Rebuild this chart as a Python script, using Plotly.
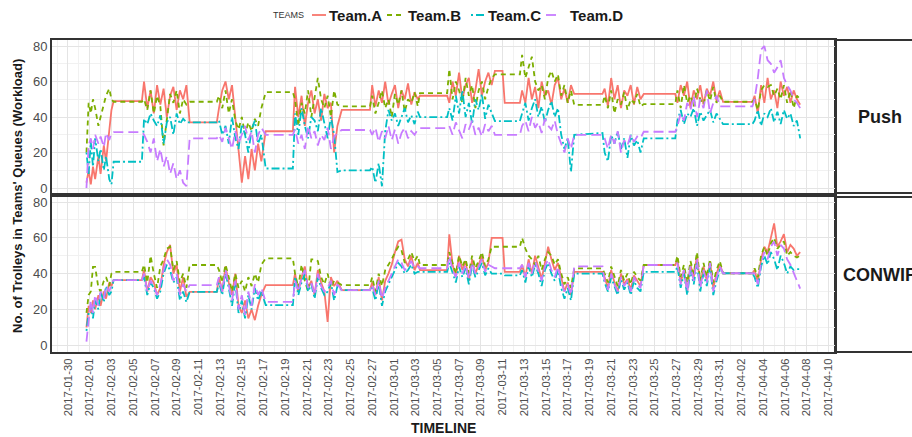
import pandas as pd
import plotly.graph_objects as go

BASE = pd.Timestamp("2017-02-01")

# day offsets from 2017-02-01, one sub-list per busy / idle stretch
t_segments = [
    [-0.3, -0.1, 0.1, 0.3, 0.5, 0.8, 1.0, 1.3, 1.5, 1.8, 2.0],
    [2.2, 4.8],
    [5.0, 5.3, 5.6, 5.9, 6.2, 6.5, 6.8, 7.1, 7.4, 7.7, 8.0, 8.3, 8.6, 8.9],
    [9.2, 11.7],
    [11.9, 12.2, 12.5, 12.8, 13.1, 13.4, 13.7, 14.0, 14.3, 14.6, 14.9, 15.2, 15.5, 15.8],
    [16.2, 18.7],
    [18.9, 19.2, 19.5, 19.8, 20.1, 20.4, 20.7, 21.0, 21.3, 21.6, 21.9, 22.2, 22.5, 22.8],
    [23.2, 25.8],
    [26.0, 26.3, 26.6, 26.9, 27.2, 27.5, 27.8, 28.1, 28.4, 28.7, 29.0, 29.3, 29.6, 29.9, 30.2],
    [30.4, 32.9],
    [33.1, 33.4, 33.7, 34.0, 34.3, 34.6, 34.9, 35.2, 35.5, 35.8, 36.1, 36.4, 36.7, 37.0],
    [37.3, 38.0, 38.2, 39.6],
    [39.8, 40.1, 40.4, 40.7, 41.0, 41.3, 41.6, 41.9, 42.2, 42.5, 42.8, 43.1, 43.4, 43.7, 44.0, 44.3],
    [44.6, 47.2],
    [47.4, 47.7, 48.0, 48.3, 48.6, 48.9, 49.2, 49.5, 49.8, 50.1, 50.4, 50.7],
    [51.0, 53.9],
    [54.1, 54.4, 54.7, 55.0, 55.3, 55.6, 55.9, 56.2, 56.5, 56.8, 57.1, 57.4, 57.7, 58.0],
    [58.3, 61.0],
    [61.2, 61.5, 61.8, 62.1, 62.4, 62.7, 63.0, 63.3, 63.6, 63.9, 64.2, 64.5, 64.8, 65.1, 65.4],
]

# ---------------- Push ----------------
push_A = [
    [3, 10, 2, 12, 5, 18, 8, 24, 15, 35, 44],
    [49, 49],
    [60, 45, 55, 42, 58, 47, 56, 40, 52, 57, 44, 55, 50, 58],
    [37, 37],
    [45, 55, 60, 50, 58, 40, 20, 3, 18, 5, 22, 10, 25, 15],
    [32, 32],
    [57, 40, 52, 35, 48, 55, 42, 50, 38, 53, 45, 48, 20, 35],
    [44, 44],
    [58, 46, 55, 48, 60, 47, 53, 58, 45, 55, 50, 59, 47, 54, 50],
    [52, 52],
    [48, 60, 52, 65, 50, 58, 62, 48, 55, 67, 52, 60, 65, 58],
    [66, 66, 48, 48],
    [55, 48, 62, 50, 57, 45, 60, 52, 55, 47, 58, 62, 50, 56, 48, 58],
    [53, 53],
    [56, 46, 62, 50, 58, 45, 55, 52, 58, 47, 57, 50],
    [53, 53],
    [48, 58, 52, 60, 45, 55, 50, 58, 47, 56, 52, 60, 49, 55],
    [48.5, 48.5],
    [52, 42, 58, 48, 62, 50, 55, 45, 60, 52, 57, 48, 55, 50, 47],
]
push_B = [
    [20, 48, 42, 50, 45, 35, 40, 47, 52, 56, 50],
    [48.6, 48.6],
    [50, 44, 55, 42, 52, 46, 24, 40, 53, 48, 55, 42, 50, 47],
    [48.6, 48.6],
    [52, 45, 55, 42, 50, 38, 33, 40, 30, 37, 32, 39, 35, 45],
    [54, 54],
    [50, 35, 48, 42, 55, 40, 52, 62, 50, 45, 52, 40, 55, 47],
    [46, 46],
    [52, 42, 48, 55, 45, 50, 40, 53, 47, 55, 43, 50, 48, 54, 46],
    [53.5, 53.5],
    [67, 50, 60, 55, 48, 62, 52, 58, 45, 55, 60, 50, 57, 62],
    [64, 64, 64, 64],
    [75, 62, 68, 74, 60, 55, 58, 50, 62, 66, 60, 64, 52, 58, 48, 55],
    [46.8, 46.8],
    [52, 45, 55, 42, 50, 47, 54, 44, 50, 48, 53, 46],
    [47.3, 47.3],
    [55, 45, 58, 48, 52, 46, 56, 50, 47, 55, 49, 57, 48, 52],
    [48.6, 48.6],
    [50, 44, 55, 58, 57, 58, 52, 56, 50, 58, 48, 55, 45, 52, 50],
]
push_C = [
    [20, 8, 26, 12, 28, 15, 22, 10, 18, 5, 2],
    [14.8, 14.8],
    [39, 36, 42, 38, 35, 41, 25, 37, 40, 30, 42, 36, 39, 37],
    [37, 37],
    [38, 30, 35, 25, 40, 28, 22, 36, 30, 20, 33, 38, 25, 30],
    [11, 11],
    [42, 30, 45, 35, 28, 40, 38, 32, 45, 36, 28, 40, 30, 9],
    [10, 10],
    [12, 3, 14, 1, 32, 44, 38, 42, 35, 40, 45, 37, 41, 36, 43],
    [40, 40],
    [45, 38, 52, 42, 55, 40, 48, 36, 50, 44, 53, 39, 47, 42],
    [37.7, 37.7, 37.7, 37.7],
    [42, 48, 38, 45, 50, 40, 46, 37, 44, 49, 40, 45, 30, 22, 28, 9],
    [30, 31],
    [20, 15, 30, 25, 32, 22, 28, 17, 30, 24, 27, 20],
    [28, 28],
    [38, 44, 36, 42, 40, 45, 35, 43, 38, 41, 44, 37, 42, 39],
    [36, 36],
    [38, 44, 35, 42, 40, 45, 37, 43, 36, 44, 39, 42, 35, 38, 28],
]
push_D = [
    [0, 24, 28, 22, 30, 25, 29, 23, 31, 27, 31],
    [31.5, 31.5],
    [30, 26, 20, 28, 15, 22, 12, 18, 8, 14, 5, 10, 3, 1],
    [28, 28],
    [30, 26, 34, 28, 22, 32, 25, 30, 35, 27, 32, 20, 30, 34],
    [30, 30],
    [33, 25, 30, 22, 35, 28, 32, 24, 30, 27, 34, 22, 29, 31],
    [32.7, 32.7],
    [30, 34, 26, 32, 28, 35, 27, 33, 25, 31, 34, 28, 32, 30, 33],
    [33.8, 33.8],
    [35, 30, 37, 32, 28, 36, 33, 38, 30, 34, 29, 36, 32, 35],
    [30, 30, 30, 30],
    [35, 38, 32, 40, 34, 37, 31, 39, 35, 33, 38, 30, 25, 20, 28, 22],
    [30, 30],
    [28, 22, 30, 25, 32, 20, 27, 24, 30, 26, 29, 28],
    [31.7, 31.7],
    [35, 42, 38, 48, 44, 52, 40, 50, 45, 55, 42, 48, 52, 46],
    [46, 46],
    [50, 62, 78, 80, 72, 70, 65, 68, 72, 62, 58, 55, 50, 48, 45],
]

# ---------------- CONWIP ----------------
conwip_A = [
    [10, 22, 18, 25, 20, 28, 22, 30, 26, 35, 33],
    [36.4, 36.4],
    [42, 30, 38, 35, 28, 32, 45, 52, 56, 40, 45, 30, 38, 27],
    [29.8, 29.8],
    [38, 30, 44, 35, 28, 40, 22, 18, 25, 15, 20, 14, 22, 28],
    [33.6, 33.6],
    [40, 30, 38, 44, 32, 36, 28, 42, 35, 30, 13, 38, 33, 36],
    [30.8, 30.8],
    [35, 28, 38, 25, 36, 40, 45, 52, 58, 59, 48, 44, 50, 42, 46],
    [42, 42],
    [62, 45, 38, 50, 42, 47, 36, 48, 40, 45, 50, 42, 46, 60],
    [60, 60, 41, 41],
    [45, 38, 48, 40, 50, 44, 37, 46, 55, 48, 42, 46, 38, 30, 35, 28],
    [41, 41],
    [38, 32, 42, 35, 30, 40, 34, 37, 31, 39, 36, 33],
    [44.8, 44.8],
    [48, 35, 42, 30, 45, 38, 50, 33, 44, 36, 47, 32, 40, 45],
    [40.2, 40.2],
    [42, 35, 48, 55, 52, 60, 68, 55, 58, 62, 52, 56, 54, 50, 52],
]
conwip_B = [
    [18, 28, 30, 43.8, 43.8, 32, 30, 36, 38, 33, 40],
    [41, 41],
    [45, 35, 50, 40, 32, 44, 48, 54, 55, 42, 47, 35, 40, 32],
    [44.8, 44.8],
    [42, 35, 45, 38, 30, 40, 32, 36, 30, 38, 33, 40, 35, 45],
    [48.5, 48.5],
    [40, 32, 45, 36, 30, 48, 48, 47, 38, 34, 40, 32, 36, 35],
    [33.6, 33.6],
    [38, 30, 40, 33, 42, 45, 48, 52, 55, 53, 46, 48, 52, 47, 50],
    [44.8, 44.8],
    [52, 46, 40, 50, 44, 48, 40, 50, 43, 47, 52, 44, 48, 55],
    [55, 55, 55, 55],
    [60, 54, 50, 48, 45, 50, 42, 48, 52, 50, 45, 48, 40, 34, 38, 32],
    [42.9, 42.9],
    [40, 35, 44, 38, 33, 42, 36, 40, 34, 41, 38, 36],
    [44.8, 44.8],
    [50, 38, 45, 35, 47, 40, 52, 36, 46, 38, 48, 35, 42, 47],
    [40.2, 40.2],
    [43, 38, 50, 55, 50, 57, 60, 54, 56, 58, 50, 52, 50, 49, 50],
]
conwip_C = [
    [8, 18, 22, 15, 25, 20, 30, 24, 33, 28, 30],
    [36.4, 36.4],
    [38, 28, 35, 32, 26, 30, 40, 45, 42, 35, 38, 25, 30, 24],
    [29.8, 29.8],
    [35, 28, 40, 32, 22, 35, 18, 25, 15, 28, 20, 32, 25, 30],
    [22.4, 22.4],
    [38, 28, 35, 40, 30, 34, 26, 38, 32, 28, 30, 35, 25, 33],
    [30.8, 30.8],
    [32, 25, 35, 22, 30, 34, 38, 42, 46, 44, 40, 42, 45, 40, 41],
    [41, 41],
    [46, 40, 35, 44, 38, 43, 34, 45, 38, 42, 46, 39, 43, 40],
    [40, 40, 39, 39],
    [42, 35, 44, 38, 45, 40, 33, 42, 46, 40, 36, 42, 32, 26, 32, 25],
    [40, 40],
    [35, 30, 38, 33, 28, 37, 31, 35, 28, 36, 32, 30],
    [41, 41],
    [44, 32, 40, 28, 42, 34, 46, 30, 40, 33, 44, 28, 36, 42],
    [40.2, 40.2],
    [38, 32, 44, 50, 45, 52, 48, 42, 50, 46, 40, 44, 42, 42.5, 42.5],
]
conwip_D = [
    [2, 15, 25, 18, 28, 22, 30, 26, 33, 30, 34],
    [36.4, 36.4],
    [40, 30, 36, 33, 28, 34, 42, 48, 45, 36, 40, 28, 34, 30],
    [33.6, 33.6],
    [38, 30, 42, 34, 25, 36, 20, 28, 17, 30, 22, 34, 28, 32],
    [24.2, 24.2],
    [36, 30, 38, 42, 32, 35, 28, 40, 33, 30, 32, 36, 28, 34],
    [30.8, 30.8],
    [34, 28, 36, 26, 32, 36, 40, 44, 48, 46, 42, 44, 47, 43, 44],
    [43, 43],
    [50, 42, 38, 46, 40, 45, 37, 46, 40, 44, 48, 41, 45, 44],
    [43, 43, 43, 43],
    [45, 38, 46, 40, 47, 42, 36, 44, 48, 42, 38, 44, 35, 30, 34, 28],
    [44, 44],
    [36, 31, 40, 34, 30, 38, 33, 36, 30, 38, 34, 32],
    [44.8, 44.8],
    [46, 34, 42, 30, 44, 36, 48, 32, 42, 35, 46, 30, 38, 44],
    [40.2, 40.2],
    [40, 34, 46, 52, 48, 55, 58, 50, 56, 54, 48, 45, 40, 36, 31.6],
]

teams = ["Team.A", "Team.B", "Team.C", "Team.D"]
colors = ["#F8766D", "#7CAE00", "#00BFC4", "#C77CFF"]
dashes = ["solid", "5px,4px", "2px,3px,8px,3px", "10px,5px"]
panels = ["Push", "CONWIP"]
panel_series = {"Push": [push_A, push_B, push_C, push_D],
                "CONWIP": [conwip_A, conwip_B, conwip_C, conwip_D]}

tick_labels = ["2017-01-30", "2017-02-01", "2017-02-03", "2017-02-05", "2017-02-07",
               "2017-02-09", "2017-02-11", "2017-02-13", "2017-02-15", "2017-02-17",
               "2017-02-19", "2017-02-21", "2017-02-23", "2017-02-25", "2017-02-27",
               "2017-03-01", "2017-03-03", "2017-03-05", "2017-03-07", "2017-03-09",
               "2017-03-11", "2017-03-13", "2017-03-15", "2017-03-17", "2017-03-19",
               "2017-03-21", "2017-03-23", "2017-03-25", "2017-03-27", "2017-03-29",
               "2017-03-31", "2017-04-02", "2017-04-04", "2017-04-06", "2017-04-08",
               "2017-04-10"]
y_ticks = [0, 20, 40, 60, 80]


def flatten(segs):
    ts, vs = [], []
    for tseg, vseg in zip(t_segments, segs):
        for t, v in zip(tseg, vseg):
            ts.append(BASE + pd.Timedelta(days=t))
            vs.append(v)
    return ts, vs


FONT = "Liberation Sans, Arial, sans-serif"
W, H = 912, 437
L, R, T, B = 52, 77, 40, 85
PW, PH = W - L - R, H - T - B


def px_x(px):
    return (px - L) / PW


def px_y(py):
    return (H - B - py) / PH


fig = go.Figure()
axes = [("x", "y"), ("x2", "y2")]
for (xa, ya), panel in zip(axes, panels):
    for name, col, dash, segs in zip(teams, colors, dashes, panel_series[panel]):
        ts, vs = flatten(segs)
        fig.add_trace(go.Scatter(x=ts, y=vs, mode="lines", name=name,
                                 line=dict(color=col, width=1.8, dash=dash),
                                 xaxis=xa, yaxis=ya, showlegend=False))

top_dom = [px_y(193), 1.0]
bot_dom = [0.0, px_y(197)]

grid_major = "#e4e4e4"
grid_minor = "#f1f1f1"
xcommon = dict(
    type="date",
    range=["2017-01-28 12:40", "2017-04-10 14:30"],
    tickvals=tick_labels, ticktext=tick_labels,
    showgrid=True, gridcolor=grid_major, gridwidth=1,
    minor=dict(dtick=86400000, tick0="2017-01-29", showgrid=True,
               gridcolor=grid_minor, gridwidth=1),
    showline=True, mirror=True, linecolor="#333333", linewidth=2,
    zeroline=False, ticks="",
)
ycommon = dict(
    tickvals=y_ticks, showgrid=True, gridcolor=grid_major, gridwidth=1,
    minor=dict(dtick=10, showgrid=True, gridcolor=grid_minor, gridwidth=1),
    showline=True, mirror=True, linecolor="#333333", linewidth=2,
    zeroline=False, ticks="",
    tickfont=dict(family=FONT, size=13, color="#4d4d4d"),
)

fig.update_layout(
    width=W, height=H,
    margin=dict(l=L, r=R, t=T, b=B, autoexpand=False),
    paper_bgcolor="white", plot_bgcolor="white",
    font=dict(family=FONT, color="#333333"),
    xaxis=dict(**xcommon, domain=[0, 1], anchor="y", matches="x2",
               showticklabels=False),
    yaxis=dict(**ycommon, domain=top_dom, anchor="x", range=[-2.8, 83.4]),
    xaxis2=dict(**xcommon, domain=[0, 1], anchor="y2", tickangle=-90,
                tickfont=dict(family=FONT, size=11.3, color="#4d4d4d")),
    yaxis2=dict(**ycommon, domain=bot_dom, anchor="x2", range=[-3.8, 82.8]),
    showlegend=False,
)

# facet strips on the right
shapes = []
for dom in (top_dom, bot_dom):
    shapes.append(dict(type="rect", xref="paper", yref="paper",
                       x0=1.0, x1=1.25, y0=dom[0], y1=dom[1],
                       line=dict(color="#333333", width=2), fillcolor="white",
                       layer="below"))

annotations = [
    dict(text="<b>Push</b>", x=px_x(880), y=(top_dom[0] + top_dom[1]) / 2,
         xref="paper", yref="paper", showarrow=False, xanchor="center",
         yanchor="middle", font=dict(family=FONT, size=18, color="#1a1a1a")),
    dict(text="<b>CONWIP</b>", x=px_x(841), y=(bot_dom[0] + bot_dom[1]) / 2,
         xref="paper", yref="paper", showarrow=False, xanchor="left",
         yanchor="middle", font=dict(family=FONT, size=18, color="#1a1a1a")),
    dict(text="<b>No. of Trolleys in Teams' Queues (Workload)</b>",
         x=px_x(17), y=0.5, xref="paper", yref="paper", showarrow=False,
         textangle=-90, xanchor="center", yanchor="middle",
         font=dict(family=FONT, size=13, color="#1a1a1a")),
    dict(text="<b>TIMELINE</b>", x=px_x(443.5), y=px_y(428), xref="paper",
         yref="paper", showarrow=False, xanchor="center", yanchor="middle",
         font=dict(family=FONT, size=14, color="#1a1a1a")),
    dict(text="TEAMS", x=px_x(271), y=px_y(15), xref="paper", yref="paper",
         showarrow=False, xanchor="left", yanchor="middle",
         font=dict(family=FONT, size=9, color="#333333")),
]

# manual legend
legend_samples = [(312, 326), (387, 401), (471, 485), (546, 560)]
legend_text_x = [327, 406, 486, 568]
for name, col, dash, (sx0, sx1), tx in zip(teams, colors, dashes,
                                           legend_samples, legend_text_x):
    shapes.append(dict(type="line", xref="paper", yref="paper",
                       x0=px_x(sx0), x1=px_x(sx1), y0=px_y(15), y1=px_y(15),
                       line=dict(color=col, width=1.8, dash=dash)))
    annotations.append(dict(text="<b>" + name + "</b>", x=px_x(tx), y=px_y(15),
                            xref="paper", yref="paper", showarrow=False,
                            xanchor="left", yanchor="middle",
                            font=dict(family=FONT, size=15, color="#1a1a1a")))

fig.update_layout(shapes=shapes, annotations=annotations)
fig.write_html("out.html",
               config={"displayModeBar": False},
               post_script="document.body.style.margin='0';")
